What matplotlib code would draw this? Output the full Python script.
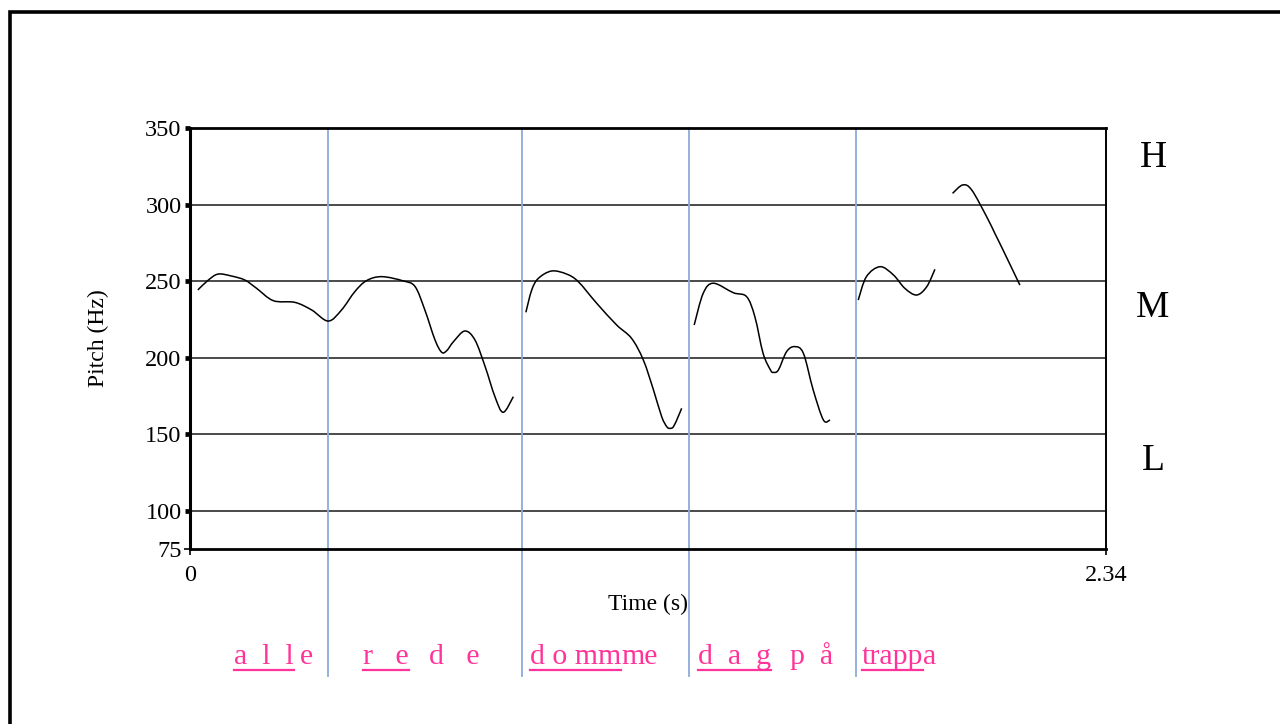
import matplotlib
matplotlib.use("Agg")
import matplotlib.pyplot as plt
import numpy as np
from matplotlib.path import Path
from matplotlib.patches import PathPatch
from matplotlib.lines import Line2D

plt.rcParams["font.family"] = ["Liberation Serif", "DejaVu Serif"]

# pitch contour pieces: time (s), pitch (Hz)
SEG1_T = [0.020, 0.047, 0.072, 0.106, 0.140, 0.170, 0.213, 0.268, 0.311, 0.353,
          0.387, 0.421, 0.451, 0.490, 0.545, 0.575, 0.600, 0.626, 0.643, 0.656,
          0.673, 0.702, 0.728, 0.754, 0.779, 0.800, 0.826]
SEG1_HZ = [244.2, 250.7, 254.6, 253.3, 250.7, 245.3, 237.2, 236.1, 231.1, 223.9,
           231.1, 243.1, 250.3, 252.9, 250.1, 246.4, 231.1, 211.5, 203.5, 204.6,
           210.4, 217.4, 211.5, 194.1, 174.5, 164.3, 174.5]
SEG2_T = [0.858, 0.873, 0.890, 0.924, 0.962, 0.992, 1.039, 1.090, 1.128, 1.158,
          1.184, 1.205, 1.218, 1.226, 1.235, 1.247, 1.256]
SEG2_HZ = [229.6, 244.2, 251.8, 256.6, 254.6, 249.6, 235.5, 221.3, 212.6, 198.5,
           178.9, 161.4, 154.9, 153.8, 154.9, 161.4, 166.9]
SEG3_T = [1.288, 1.311, 1.337, 1.388, 1.422, 1.443, 1.464, 1.483, 1.490, 1.503,
          1.524, 1.545, 1.567, 1.592, 1.618, 1.635]
SEG3_HZ = [221.3, 242.0, 248.6, 242.4, 239.8, 226.7, 202.8, 191.9, 190.4, 191.9,
           203.9, 207.2, 202.8, 178.9, 159.3, 159.3]
SEG4_T = [1.707, 1.728, 1.763, 1.797, 1.826, 1.856, 1.882, 1.903]
SEG4_HZ = [237.6, 252.9, 259.4, 254.0, 245.3, 240.9, 246.3, 257.7]
SEG5_T = [1.948, 1.974, 1.997, 2.035, 2.056, 2.077, 2.120]
SEG5_HZ = [307.3, 312.8, 309.5, 292.1, 281.2, 270.3, 247.4]

BOUNDARIES = [0.352, 0.848, 1.275, 1.701]   # word boundaries (s)

GRID_HZ = [100, 150, 200, 250, 300]
Y_TICKS = [100, 150, 200, 250, 300, 350]
X_TICKS = [0, 2.34]
X_TICKLABELS = ["0", "2.34"]

LEVELS = ["H", "M", "L"]
LEVEL_HZ = [330.7, 232.4, 132.6]

# transcription pieces; a start of None means "glued to the previous piece"
WORD_TEXT = ["a  l  l", "e", "r   e", "d   e", "d o mm", "me", "d  a  g", "p  å", "trapp", "a"]
WORD_UNDERLINED = [True, False, True, False, True, False, True, False, True, False]
WORD_T = [0.112, 0.281, 0.442, 0.611, 0.869, None, 1.298, 1.533, 1.717, None]

PINK = "#ff3399"
BLUE = "#8eaadb"


def smooth_path(ts, hs):
    """Catmull-Rom through the read points, drawn as cubic Bezier."""
    p = np.column_stack([ts, hs])
    n = len(p)
    verts, codes = [p[0]], [Path.MOVETO]
    for i in range(n - 1):
        p0, p1, p2, p3 = p[max(i - 1, 0)], p[i], p[i + 1], p[min(i + 2, n - 1)]
        verts += [p1 + (p2 - p0) / 6, p2 - (p3 - p1) / 6, p2]
        codes += [Path.CURVE4] * 3
    return Path(verts, codes)


W, H = 1280, 724
fig = plt.figure(figsize=(W / 100, H / 100), dpi=100)
ax = fig.add_axes([190 / W, 1 - 549 / H, (1106 - 190) / W, (549 - 128) / H])
ax.set_xlim(0, 2.34)
ax.set_ylim(75, 350)

for hz in GRID_HZ:
    ax.axhline(hz, color="#4a4a4a", lw=1.4, zorder=1)
for b in BOUNDARIES:
    ax.axvline(b, ymin=-0.302, ymax=1, color=BLUE, lw=1.3, clip_on=False, zorder=2)

for ts, hs in [(SEG1_T, SEG1_HZ), (SEG2_T, SEG2_HZ), (SEG3_T, SEG3_HZ),
               (SEG4_T, SEG4_HZ), (SEG5_T, SEG5_HZ)]:
    ax.add_patch(PathPatch(smooth_path(ts, hs), fill=False, ec="black", lw=1.1, zorder=3))

for s, lw in [("top", 2.0), ("left", 2.2), ("bottom", 2.0), ("right", 1.4)]:
    ax.spines[s].set_linewidth(lw)
    ax.spines[s].set_color("black")

ax.set_yticks(Y_TICKS)
ax.set_yticklabels([str(v) for v in Y_TICKS])
ax.set_yticks([75], minor=True)
ax.set_yticklabels(["75"], minor=True)
ax.tick_params(axis="y", which="major", direction="out", length=3.6, width=3.4,
               pad=2.5, labelsize=17.5)
ax.tick_params(axis="y", which="minor", direction="out", length=4, width=1.2,
               pad=2, labelsize=17.5)
ax.set_xticks(X_TICKS)
ax.set_xticklabels(X_TICKLABELS)
ax.tick_params(axis="x", direction="out", length=4.5, width=1.2, pad=7, labelsize=17.5)

fig.text(98 / W, 1 - 338 / H, "Pitch (Hz)", rotation=90, ha="center", va="center", fontsize=17)
fig.text(648 / W, 1 - 604 / H, "Time (s)", ha="center", va="center", fontsize=17)

for lab, hz in zip(LEVELS, LEVEL_HZ):
    ax.text(2.46, hz, lab, ha="center", va="center", fontsize=27, clip_on=False)

# phonetic transcription under the plot, underlined stressed syllables
base_y = 1 - 664 / H
uy = 1 - 669.5 / H
fig.canvas.draw()
r = fig.canvas.get_renderer()
prev_end = None
for txt, t, u in zip(WORD_TEXT, WORD_T, WORD_UNDERLINED):
    x = prev_end if t is None else (190 + t * (1106 - 190) / 2.34) / W
    tx = fig.text(x, base_y, txt, ha="left", va="baseline", fontsize=21.5, color=PINK)
    bb = tx.get_window_extent(r)
    prev_end = bb.x1 / W
    if u:
        fig.add_artist(Line2D([bb.x0 / W, bb.x1 / W], [uy, uy], color=PINK, lw=1.6,
                              transform=fig.transFigure))

# outer frame (top and left edges only are in view)
fig.add_artist(Line2D([9.5 / W, 9.5 / W, 1.0], [0.0, 1 - 11.5 / H, 1 - 11.5 / H],
                      color="black", lw=2.6, transform=fig.transFigure,
                      solid_joinstyle="miter"))

fig.savefig("out.png", dpi=100)
